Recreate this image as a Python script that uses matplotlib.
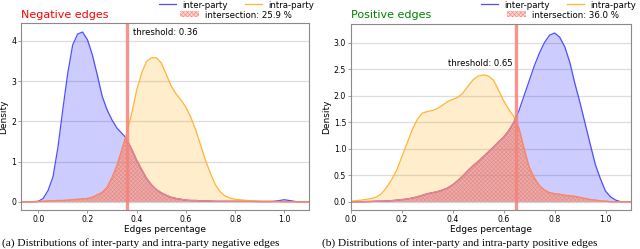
import numpy as np
import matplotlib
matplotlib.use("Agg")
import matplotlib.pyplot as plt
from matplotlib.lines import Line2D
from matplotlib.patches import Patch

neg_x = [-0.07, -0.04, -0.02, 0.0, 0.02, 0.04, 0.06, 0.08, 0.10, 0.12, 0.14, 0.16, 0.18,
         0.20, 0.22, 0.24, 0.26, 0.28, 0.30, 0.32, 0.34, 0.355, 0.38, 0.40, 0.42, 0.44,
         0.46, 0.48, 0.50, 0.52, 0.54, 0.56, 0.58, 0.60, 0.62, 0.64, 0.66, 0.68, 0.70,
         0.72, 0.74, 0.76, 0.78, 0.80, 0.85, 0.90, 0.95, 0.98, 1.00, 1.02, 1.05, 1.10]
neg_inter = [0.0, 0.0, 0.0, 0.01, 0.08, 0.28, 0.62, 1.35, 2.3, 3.2, 3.9, 4.17, 4.22,
             4.03, 3.65, 3.15, 2.62, 2.28, 2.03, 1.83, 1.70, 1.6, 1.3, 1.03, 0.8, 0.58,
             0.42, 0.3, 0.22, 0.16, 0.11, 0.08, 0.06, 0.04, 0.03, 0.03, 0.02, 0.02, 0.015,
             0.01, 0.01, 0.01, 0.01, 0.01, 0.01, 0.005, 0.005, 0.03, 0.05, 0.03, 0.0, 0.0]
neg_intra = [0.0, 0.0, 0.0, 0.005, 0.01, 0.02, 0.02, 0.03, 0.03, 0.04, 0.05, 0.06, 0.07,
             0.08, 0.11, 0.17, 0.23, 0.36, 0.6, 0.9, 1.3, 1.6, 2.2, 2.78, 3.2, 3.49,
             3.58, 3.58, 3.45, 3.17, 2.88, 2.68, 2.53, 2.35, 2.1, 1.78, 1.4, 1.02, 0.7,
             0.42, 0.24, 0.14, 0.09, 0.06, 0.03, 0.015, 0.01, 0.005, 0.0, 0.0, 0.0, 0.0]

pos_x = [0.0, 0.04, 0.08, 0.10, 0.12, 0.14, 0.16, 0.18, 0.20, 0.22, 0.24, 0.26, 0.28,
         0.30, 0.32, 0.34, 0.36, 0.38, 0.40, 0.42, 0.44, 0.46, 0.48, 0.50, 0.52, 0.54,
         0.56, 0.58, 0.60, 0.62, 0.64, 0.645, 0.66, 0.68, 0.70, 0.72, 0.74, 0.76, 0.78,
         0.80, 0.82, 0.84, 0.86, 0.88, 0.90, 0.92, 0.94, 0.96, 0.98, 1.00, 1.02, 1.04,
         1.06, 1.10]
pos_inter = [0.0, 0.0, 0.005, 0.01, 0.01, 0.015, 0.02, 0.03, 0.04, 0.05, 0.07, 0.09, 0.12,
             0.15, 0.17, 0.19, 0.22, 0.26, 0.32, 0.4, 0.49, 0.59, 0.68, 0.76, 0.85, 0.94,
             1.03, 1.13, 1.22, 1.34, 1.5, 1.56, 1.72, 2.0, 2.28, 2.56, 2.8, 3.0, 3.14,
             3.18, 3.1, 2.92, 2.62, 2.22, 1.86, 1.47, 1.08, 0.7, 0.43, 0.2, 0.09, 0.03,
             0.0, 0.0]
pos_intra = [0.01, 0.03, 0.06, 0.09, 0.15, 0.27, 0.42, 0.6, 0.85, 1.1, 1.35, 1.55, 1.67,
             1.7, 1.72, 1.76, 1.82, 1.89, 1.93, 1.97, 2.05, 2.18, 2.3, 2.37, 2.39, 2.37,
             2.29, 2.1, 1.9, 1.74, 1.6, 1.56, 1.38, 1.0, 0.65, 0.45, 0.3, 0.22, 0.17,
             0.15, 0.14, 0.12, 0.11, 0.1, 0.08, 0.06, 0.04, 0.03, 0.015, 0.01, 0.0, 0.0,
             0.0, 0.0]

neg_threshold = 0.36
pos_threshold = 0.65
neg_overlap = 25.9
pos_overlap = 36.0

plt.rcParams['hatch.linewidth'] = 0.4
RED = '#f4837a'
HATCH = 'xxxxxxxx'

fig = plt.figure(figsize=(6.4, 2.49), dpi=100)
ax1 = fig.add_axes([21/640, 39/249, 288/640, 187/249])
ax2 = fig.add_axes([351/640, 39/249, 280/640, 186/249])


def draw_panel(ax, x, inter, intra, thr, xlim, ylim, yticks, ylabels):
    x = np.array(x)
    inter = np.array(inter)
    intra = np.array(intra)
    inter_sec = np.minimum(inter, intra)

    ax.fill_between(x, 0, inter, color='blue', alpha=0.2, lw=0)
    ax.fill_between(x, 0, intra, color='orange', alpha=0.2, lw=0)
    ax.plot(x, inter, color='#4f4fff', lw=0.9)
    ax.plot(x, intra, color='#ffb433', lw=0.9)
    ax.fill_between(x, 0, inter_sec, facecolor=(1, 0.5, 0.45, 0.3),
                    edgecolor=RED, hatch=HATCH, lw=0)
    ax.plot(x, inter_sec, color=RED, lw=1.0)
    ax.axvline(thr, color=RED, lw=2.4, alpha=0.85)

    ax.set_xlim(*xlim)
    ax.set_ylim(*ylim)
    ax.set_xticks([0.0, 0.2, 0.4, 0.6, 0.8, 1.0])
    ax.set_xticklabels(['0.0', '0.2', '0.4', '0.6', '0.8', '1.0'])
    ax.set_yticks(yticks)
    ax.set_yticklabels(ylabels)
    ax.grid(axis='y', color='#dddddd', lw=0.9)
    ax.set_axisbelow(True)
    for s in ax.spines.values():
        s.set_color('#8a8a8a')
        s.set_linewidth(0.8)
    ax.tick_params(labelsize=5.6, length=2, width=0.6, color='#8a8a8a', pad=1.5)
    ax.set_xlabel('Edges percentage', fontsize=6.5, labelpad=1)
    ax.set_ylabel('Density', fontsize=6.5, labelpad=2)


draw_panel(ax1, neg_x, neg_inter, neg_intra, neg_threshold, (-0.07, 1.1), (-0.206, 4.445),
           [0, 1, 2, 3, 4], ['0', '1', '2', '3', '4'])
draw_panel(ax2, pos_x, pos_inter, pos_intra, pos_threshold, (0.0, 1.1), (-0.156, 3.35),
           [0.0, 0.5, 1.0, 1.5, 2.0, 2.5, 3.0], ['0.0', '0.5', '1.0', '1.5', '2.0', '2.5', '3.0'])

ax1.text(0.383, 4.2, 'threshold: %.2f' % neg_threshold, fontsize=6.1, va='center', ha='left')
ax2.text(0.636, 2.6, 'threshold: %.2f' % pos_threshold, fontsize=6.1, va='center', ha='right')

fig.text(21/640, 1 - 15/249, 'Negative edges', color='red', fontsize=8, va='center', ha='left')
fig.text(351/640, 1 - 15/249, 'Positive edges', color='green', fontsize=8, va='center', ha='left')


def add_legend(right_x, patch_x, pct):
    h1 = [Line2D([], [], color='#4f4fff', lw=0.9), Line2D([], [], color='#ffb433', lw=0.9)]
    fig.legend(h1, ['inter-party', 'intra-party'], loc='center right',
               bbox_to_anchor=(right_x/640, 1 - 5/249), ncol=2, frameon=False,
               fontsize=6.2, borderpad=0, borderaxespad=0, handlelength=2.0,
               handletextpad=0.7, columnspacing=2.0)
    h2 = [Patch(facecolor=(1, 0.5, 0.45, 0.3), edgecolor=RED, hatch=HATCH, lw=0)]
    fig.legend(h2, ['intersection: %.1f %%' % pct], loc='center left',
               bbox_to_anchor=(patch_x/640, 1 - 15/249), frameon=False,
               fontsize=6.2, borderpad=0, borderaxespad=0, handlelength=2.2,
               handletextpad=0.7)


add_legend(314, 180, neg_overlap)
add_legend(636, 507, pos_overlap)

# captions sit at the very bottom edge, as in the source figure
fig.text(2/640, 2.8/249, '(a) Distributions of inter-party and intra-party negative edges',
         family='Liberation Serif', fontsize=8.2, va='baseline', ha='left')
fig.text(322/640, 2.8/249, '(b) Distributions of inter-party and intra-party positive edges',
         family='Liberation Serif', fontsize=8.2, va='baseline', ha='left')

fig.savefig('out.png', dpi=100)
